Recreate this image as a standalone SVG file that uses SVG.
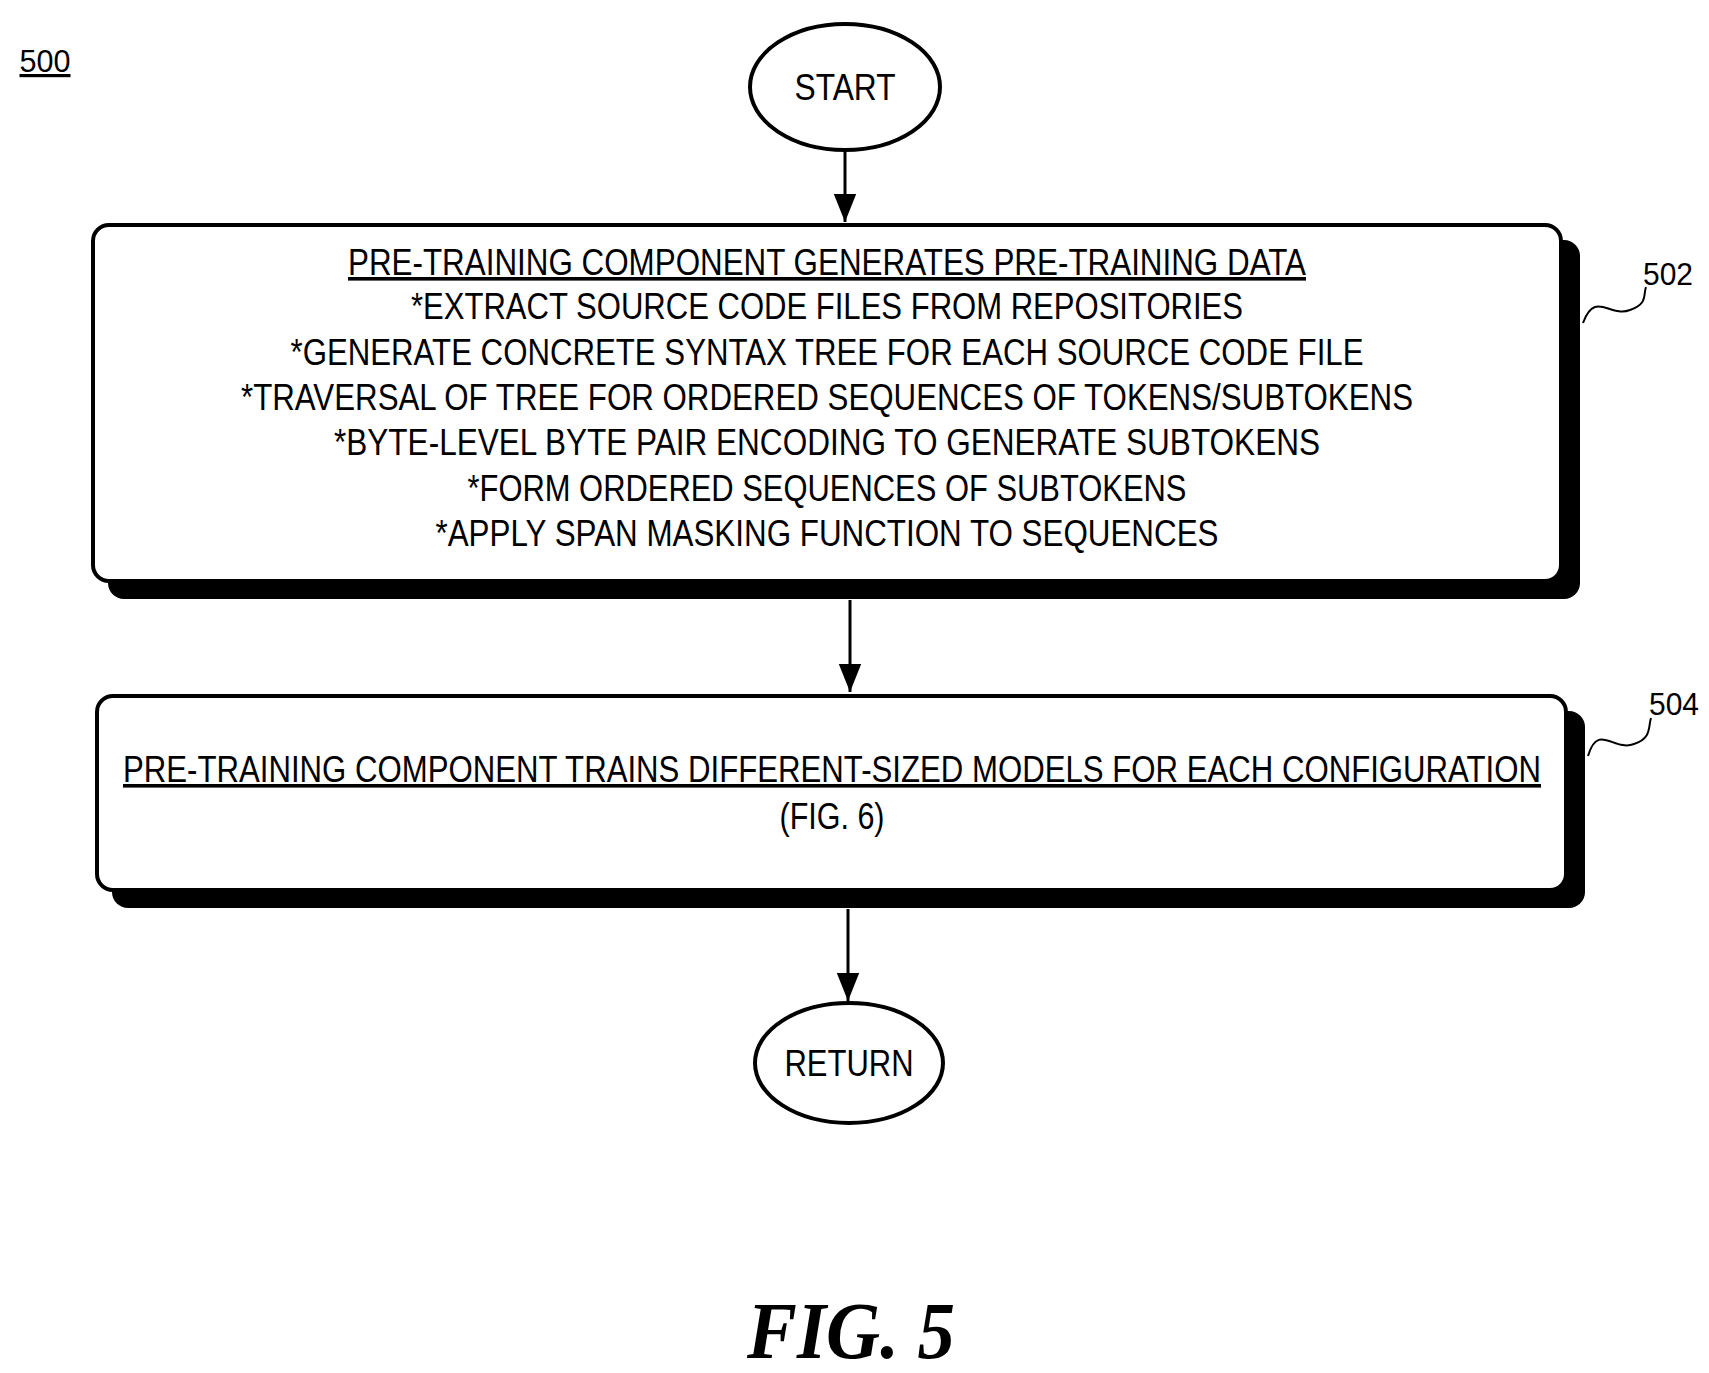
<svg xmlns="http://www.w3.org/2000/svg" width="1709" height="1373" viewBox="0 0 1709 1373">
<style>
.t{font-family:"Liberation Sans",Arial,sans-serif;font-size:36px;fill:#000;text-anchor:middle}
.b{fill:#fff;stroke:#000;stroke-width:4}
.s{fill:#000}
.l{stroke:#000;stroke-width:3;fill:none}
</style>
<defs>
<marker id="ah" viewBox="0 0 10 10" refX="10" refY="5" markerWidth="28" markerHeight="28" markerUnits="userSpaceOnUse" orient="auto"><path d="M0,1 L10,5 L0,9 z"/></marker></defs>
<text class="t" x="45" y="72" textLength="51" lengthAdjust="spacingAndGlyphs" style="font-size:32px;text-decoration:underline">500</text>
<g id="start"><ellipse class="b" cx="845" cy="87" rx="95" ry="63"/><text class="t" x="845" y="100" textLength="101" lengthAdjust="spacingAndGlyphs">START</text></g>
<g id="n502">
<rect class="s" x="108" y="240" width="1472" height="359" rx="16"/>
<rect class="b" x="93" y="225" width="1468" height="356" rx="16"/>
<text class="t" x="827" y="275" textLength="958" lengthAdjust="spacingAndGlyphs" style="text-decoration:underline">PRE-TRAINING COMPONENT GENERATES PRE-TRAINING DATA</text>
<text class="t" x="827" y="319" textLength="832" lengthAdjust="spacingAndGlyphs">*EXTRACT SOURCE CODE FILES FROM REPOSITORIES</text>
<text class="t" x="827" y="365" textLength="1073" lengthAdjust="spacingAndGlyphs">*GENERATE CONCRETE SYNTAX TREE FOR EACH SOURCE CODE FILE</text>
<text class="t" x="827" y="410" textLength="1172" lengthAdjust="spacingAndGlyphs">*TRAVERSAL OF TREE FOR ORDERED SEQUENCES OF TOKENS/SUBTOKENS</text>
<text class="t" x="827" y="455" textLength="986" lengthAdjust="spacingAndGlyphs">*BYTE-LEVEL BYTE PAIR ENCODING TO GENERATE SUBTOKENS</text>
<text class="t" x="827" y="501" textLength="719" lengthAdjust="spacingAndGlyphs">*FORM ORDERED SEQUENCES OF SUBTOKENS</text>
<text class="t" x="827" y="546" textLength="783" lengthAdjust="spacingAndGlyphs">*APPLY SPAN MASKING FUNCTION TO SEQUENCES</text>
<text class="t" x="1668" y="285" textLength="50" lengthAdjust="spacingAndGlyphs" style="font-size:32px">502</text>
<path class="l" style="stroke-width:2" d="M1583,323 C1595,290 1610,318 1630,310 C1648,304 1643,295 1646,287"/>
</g>
<g id="n504">
<rect class="s" x="112" y="711" width="1473" height="197" rx="16"/>
<rect class="b" x="97" y="696" width="1469" height="194" rx="16"/>
<text class="t" x="832" y="782" textLength="1418" lengthAdjust="spacingAndGlyphs" style="text-decoration:underline">PRE-TRAINING COMPONENT TRAINS DIFFERENT-SIZED MODELS FOR EACH CONFIGURATION</text>
<text class="t" x="832" y="829" textLength="105" lengthAdjust="spacingAndGlyphs">(FIG. 6)</text>
<text class="t" x="1674" y="715" textLength="50" lengthAdjust="spacingAndGlyphs" style="font-size:32px">504</text>
<path class="l" style="stroke-width:2" d="M1588,756 C1598,722 1614,752 1634,744 C1652,738 1648,727 1651,718"/>
</g>
<g id="ret"><ellipse class="b" cx="849" cy="1063" rx="94" ry="60"/><text class="t" x="849" y="1076" textLength="129" lengthAdjust="spacingAndGlyphs">RETURN</text></g>
<g id="connectors">
<line class="l" x1="845" y1="152" x2="845" y2="222" marker-end="url(#ah)"/>
<line class="l" x1="850" y1="600" x2="850" y2="692" marker-end="url(#ah)"/>
<line class="l" x1="848" y1="909" x2="848" y2="1001" marker-end="url(#ah)"/>
</g>
<text x="851" y="1358" style="font-family:'Liberation Serif',serif;font-style:italic;font-weight:bold;font-size:80px;text-anchor:middle" textLength="208" lengthAdjust="spacingAndGlyphs">FIG. 5</text>
</svg>
